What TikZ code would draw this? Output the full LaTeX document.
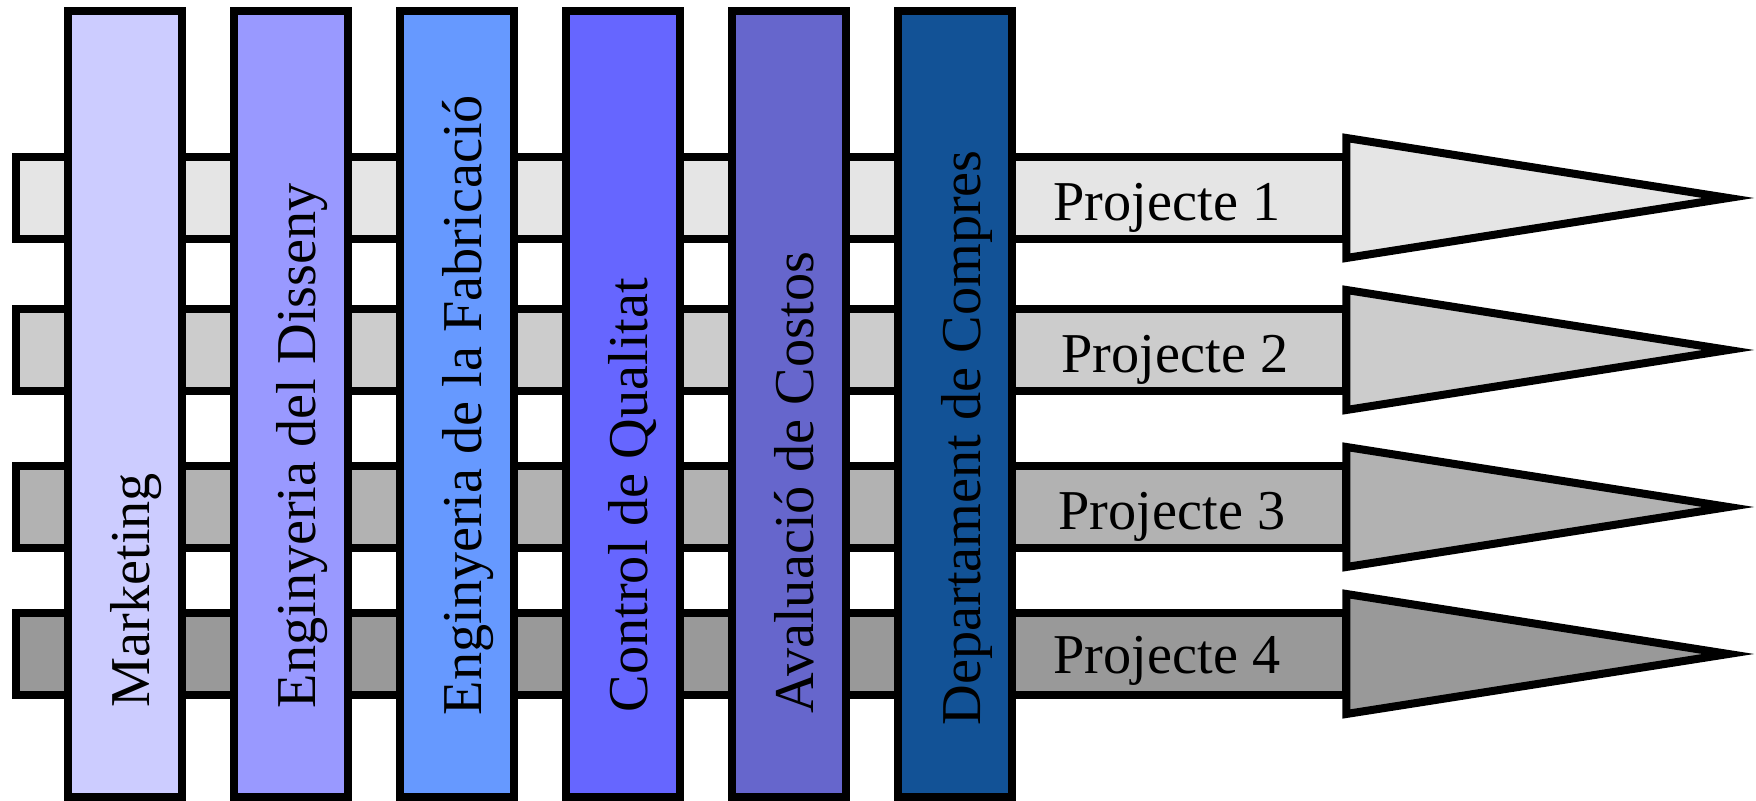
\documentclass[tikz,border=0pt]{standalone}
\usepackage{fontspec}
\setmainfont{Liberation Serif}
\usepackage{tikz}

\definecolor{mkt}{HTML}{CCCCFF}
\definecolor{dis}{HTML}{9999FF}
\definecolor{fab}{HTML}{6699FF}
\definecolor{qua}{HTML}{6666FF}
\definecolor{cos}{HTML}{6666CC}
\definecolor{com}{RGB}{18,82,150}
\definecolor{proja}{HTML}{E5E5E5}
\definecolor{projb}{HTML}{CCCCCC}
\definecolor{projc}{HTML}{B2B2B2}
\definecolor{projd}{HTML}{999999}

\begin{document}
\begin{tikzpicture}[x=0.01cm, y=-0.01cm, font=\fontsize{16}{19}\selectfont]
            \tikzstyle{projbar}=[rectangle, draw, line width=0.08cm, inner sep=0pt, outer sep=0pt, minimum width=13.3cm, minimum height=0.81cm]
            \tikzstyle{dept}=[rectangle, draw, line width=0.08cm, inner sep=0pt, outer sep=0pt, minimum width=1.135cm, minimum height=7.862cm]
            \tikzstyle{ponta}=[draw, line width=0.08cm]
            \tikzstyle{vtext}=[rotate=90, anchor=base west, inner sep=0pt]
            \tikzstyle{htext}=[anchor=base west, inner sep=0pt]

                \useasboundingbox (0,0) rectangle (1756,801);

                % Projectes
                \node[projbar, fill=proja] (p1) at (681,198) {};
                \node[projbar, fill=projb] (p2) at (681,350) {};
                \node[projbar, fill=projc] (p3) at (681,507) {};
                \node[projbar, fill=projd] (p4) at (681,654) {};

                \draw[ponta, fill=proja] (p1.east) ++(0,-60) -- ++(382,60) -- ++(-382,60) -- cycle;
                \draw[ponta, fill=projb] (p2.east) ++(0,-60) -- ++(382,60) -- ++(-382,60) -- cycle;
                \draw[ponta, fill=projc] (p3.east) ++(0,-60) -- ++(382,60) -- ++(-382,60) -- cycle;
                \draw[ponta, fill=projd] (p4.east) ++(0,-60) -- ++(382,60) -- ++(-382,60) -- cycle;

                % Departaments
                \node[dept, fill=mkt] (mkt) at (124.75,403.9) {};
                \node[dept, fill=dis] (dis) at (290.75,403.9) {};
                \node[dept, fill=fab] (fab) at (456.75,403.9) {};
                \node[dept, fill=qua] (qua) at (622.75,403.9) {};
                \node[dept, fill=cos] (cos) at (788.75,403.9) {};
                \node[dept, fill=com] (com) at (954.75,403.9) {};

                \node[vtext] (tmkt) at (149.75,708) {Marketing};
                \node[vtext] (tdis) at (315.75,709) {Enginyeria del Disseny};
                \node[vtext] (tfab) at (481.75,716) {Enginyeria de la Fabricació};
                \node[vtext] (tqua) at (647.75,713) {Control de Qualitat};
                \node[vtext] (tcos) at (813.75,714) {Avaluació de Costos};
                \node[vtext] (tcom) at (980.75,726) {Departament de Compres};

                \node[htext] (tp1) at (1053,220.7) {Projecte 1};
                \node[htext] (tp2) at (1061,372.7) {Projecte 2};
                \node[htext] (tp3) at (1058,530) {Projecte 3};
                \node[htext] (tp4) at (1053,674) {Projecte 4};
        \end{tikzpicture}
\end{document}
